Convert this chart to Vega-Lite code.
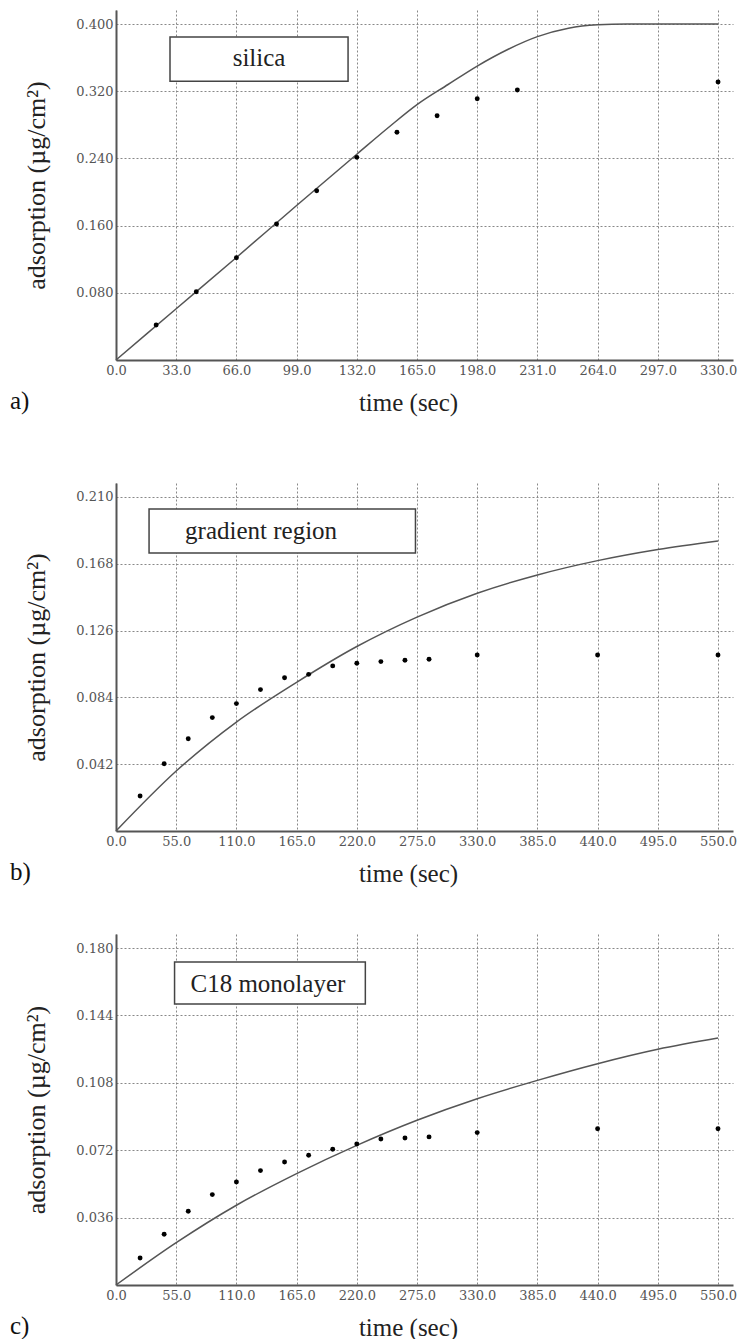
{
  "$schema": "https://vega.github.io/schema/vega-lite/v6.json",
  "background": "white",
  "padding": {"left": 10, "top": 10, "right": 4, "bottom": 0},
  "spacing": 68,
  "datasets": {
    "a_pts": [
      {"t": 22, "v": 0.0417}, {"t": 44, "v": 0.0813}, {"t": 66, "v": 0.1218}, {"t": 88, "v": 0.1619},
      {"t": 110, "v": 0.2015}, {"t": 132, "v": 0.2413}, {"t": 154, "v": 0.2711}, {"t": 176, "v": 0.2908},
      {"t": 198, "v": 0.311}, {"t": 220, "v": 0.3214}, {"t": 330, "v": 0.331}
    ],
    "a_fit": [
      {"t": 0, "v": 0}, {"t": 33, "v": 0.061}, {"t": 66, "v": 0.122}, {"t": 99, "v": 0.184},
      {"t": 132, "v": 0.245}, {"t": 150, "v": 0.278}, {"t": 165, "v": 0.304}, {"t": 182, "v": 0.328},
      {"t": 198, "v": 0.35}, {"t": 215, "v": 0.37}, {"t": 231, "v": 0.385}, {"t": 248, "v": 0.395},
      {"t": 264, "v": 0.399}, {"t": 280, "v": 0.4}, {"t": 330, "v": 0.4}
    ],
    "b_pts": [
      {"t": 22, "v": 0.022}, {"t": 44, "v": 0.0423}, {"t": 66, "v": 0.058}, {"t": 88, "v": 0.0713},
      {"t": 110, "v": 0.0801}, {"t": 132, "v": 0.0889}, {"t": 154, "v": 0.0964}, {"t": 176, "v": 0.0985},
      {"t": 198, "v": 0.1038}, {"t": 220, "v": 0.1055}, {"t": 242, "v": 0.1065}, {"t": 264, "v": 0.1074},
      {"t": 286, "v": 0.108}, {"t": 330, "v": 0.1107}, {"t": 440, "v": 0.1107}, {"t": 550, "v": 0.1107}
    ],
    "b_fit": [
      {"t": 0, "v": 0}, {"t": 55, "v": 0.0377}, {"t": 110, "v": 0.0685}, {"t": 165, "v": 0.0935},
      {"t": 220, "v": 0.116}, {"t": 275, "v": 0.1345}, {"t": 330, "v": 0.1495}, {"t": 385, "v": 0.161},
      {"t": 440, "v": 0.17}, {"t": 495, "v": 0.177}, {"t": 550, "v": 0.1824}
    ],
    "c_pts": [
      {"t": 22, "v": 0.0144}, {"t": 44, "v": 0.0271}, {"t": 66, "v": 0.0394}, {"t": 88, "v": 0.0483},
      {"t": 110, "v": 0.055}, {"t": 132, "v": 0.0611}, {"t": 154, "v": 0.0657}, {"t": 176, "v": 0.0693},
      {"t": 198, "v": 0.0725}, {"t": 220, "v": 0.0753}, {"t": 242, "v": 0.078}, {"t": 264, "v": 0.0785},
      {"t": 286, "v": 0.0791}, {"t": 330, "v": 0.0814}, {"t": 440, "v": 0.0835}, {"t": 550, "v": 0.0835}
    ],
    "c_fit": [
      {"t": 0, "v": 0}, {"t": 55, "v": 0.0226}, {"t": 110, "v": 0.0426}, {"t": 165, "v": 0.0595},
      {"t": 220, "v": 0.0746}, {"t": 275, "v": 0.088}, {"t": 330, "v": 0.0995}, {"t": 385, "v": 0.1093},
      {"t": 440, "v": 0.1182}, {"t": 495, "v": 0.1259}, {"t": 550, "v": 0.1319}
    ]
  },
  "config": {
    "view": {"stroke": null},
    "axis": {
      "grid": true, "gridColor": "#888", "gridDash": [2, 2], "gridWidth": 1,
      "domainColor": "#555", "domainWidth": 2, "ticks": false,
      "labelFont": "DejaVu Serif, serif", "labelFontSize": 13, "labelColor": "#555",
      "titleFont": "Liberation Serif, Times New Roman, serif", "titleFontSize": 25, "titleFontWeight": "normal", "titleColor": "#222"
    },
    "axisX": {"labelPadding": 4, "titlePadding": 13, "labelFlush": false, "titleX": 292},
    "axisY": {"labelPadding": 3, "titlePadding": 26, "titleFontSize": 26},
    "title": {"font": "Liberation Serif, Times New Roman, serif", "fontSize": 25, "fontWeight": "normal", "color": "#111", "orient": "bottom", "anchor": "start", "frame": "group", "dx": -106, "offset": -26}
  },
  "vconcat": [
    {
      "width": 617, "height": 350,
      "title": {"text": "a)"},
      "layer": [
        {
          "data": {"name": "a_fit"},
          "mark": {"type": "line", "color": "#555", "strokeWidth": 1.5, "interpolate": "monotone"},
          "encoding": {
            "x": {"field": "t", "type": "quantitative", "scale": {"domain": [0, 338.2], "nice": false},
                  "axis": {"values": [0, 33, 66, 99, 132, 165, 198, 231, 264, 297, 330], "format": ".1f", "title": "time (sec)"}},
            "y": {"field": "v", "type": "quantitative", "scale": {"domain": [0, 0.4167], "nice": false},
                  "axis": {"values": [0.08, 0.16, 0.24, 0.32, 0.4], "format": ".3f", "title": "adsorption (µg/cm²)"}}
          }
        },
        {
          "data": {"name": "a_pts"},
          "mark": {"type": "point", "filled": true, "color": "black", "size": 24, "opacity": 1},
          "encoding": {"x": {"field": "t", "type": "quantitative"}, "y": {"field": "v", "type": "quantitative"}}
        },
        {
          "data": {"values": [{"label": "silica"}]},
          "mark": {"type": "rect", "fill": "white", "stroke": "#444", "strokeWidth": 1.5},
          "encoding": {"x": {"datum": 29.6}, "x2": {"datum": 127.2}, "y": {"datum": 0.3845}, "y2": {"datum": 0.332}}
        },
        {
          "data": {"values": [{"label": "silica"}]},
          "mark": {"type": "text", "font": "Liberation Serif, Times New Roman, serif", "fontSize": 25, "color": "#222", "baseline": "middle", "align": "center"},
          "encoding": {"x": {"datum": 78.4}, "y": {"datum": 0.3595}, "text": {"field": "label"}}
        }
      ]
    },
    {
      "spacing": 48,
      "vconcat": [
        {
          "width": 617, "height": 348,
          "title": {"text": "b)"},
          "layer": [
            {
              "data": {"name": "b_fit"},
              "mark": {"type": "line", "color": "#555", "strokeWidth": 1.5, "interpolate": "monotone"},
              "encoding": {
                "x": {"field": "t", "type": "quantitative", "scale": {"domain": [0, 563.7], "nice": false},
                      "axis": {"values": [0, 55, 110, 165, 220, 275, 330, 385, 440, 495, 550], "format": ".1f", "title": "time (sec)"}},
                "y": {"field": "v", "type": "quantitative", "scale": {"domain": [0, 0.2188], "nice": false},
                      "axis": {"values": [0.042, 0.084, 0.126, 0.168, 0.21], "format": ".3f", "title": "adsorption (µg/cm²)"}}
              }
            },
            {
              "data": {"name": "b_pts"},
              "mark": {"type": "point", "filled": true, "color": "black", "size": 24, "opacity": 1},
              "encoding": {"x": {"field": "t", "type": "quantitative"}, "y": {"field": "v", "type": "quantitative"}}
            },
            {
              "data": {"values": [{"label": "gradient region"}]},
              "mark": {"type": "rect", "fill": "white", "stroke": "#444", "strokeWidth": 1.5},
              "encoding": {"x": {"datum": 30.2}, "x2": {"datum": 273.6}, "y": {"datum": 0.2025}, "y2": {"datum": 0.1748}}
            },
            {
              "data": {"values": [{"label": "gradient region"}]},
              "mark": {"type": "text", "font": "Liberation Serif, Times New Roman, serif", "fontSize": 25, "color": "#222", "baseline": "middle", "align": "left"},
              "encoding": {"x": {"datum": 63.1}, "y": {"datum": 0.1887}, "text": {"field": "label"}}
            }
          ]
        },
        {
          "width": 617, "height": 351,
          "title": {"text": "c)"},
          "layer": [
            {
              "data": {"name": "c_fit"},
              "mark": {"type": "line", "color": "#555", "strokeWidth": 1.5, "interpolate": "monotone"},
              "encoding": {
                "x": {"field": "t", "type": "quantitative", "scale": {"domain": [0, 563.7], "nice": false},
                      "axis": {"values": [0, 55, 110, 165, 220, 275, 330, 385, 440, 495, 550], "format": ".1f", "title": "time (sec)"}},
                "y": {"field": "v", "type": "quantitative", "scale": {"domain": [0, 0.1875], "nice": false},
                      "axis": {"values": [0.036, 0.072, 0.108, 0.144, 0.18], "format": ".3f", "title": "adsorption (µg/cm²)"}}
              }
            },
            {
              "data": {"name": "c_pts"},
              "mark": {"type": "point", "filled": true, "color": "black", "size": 24, "opacity": 1},
              "encoding": {"x": {"field": "t", "type": "quantitative"}, "y": {"field": "v", "type": "quantitative"}}
            },
            {
              "data": {"values": [{"label": "C18 monolayer"}]},
              "mark": {"type": "rect", "fill": "white", "stroke": "#444", "strokeWidth": 1.5},
              "encoding": {"x": {"datum": 53.5}, "x2": {"datum": 227.8}, "y": {"datum": 0.1725}, "y2": {"datum": 0.1501}}
            },
            {
              "data": {"values": [{"label": "C18 monolayer"}]},
              "mark": {"type": "text", "font": "Liberation Serif, Times New Roman, serif", "fontSize": 25, "color": "#222", "baseline": "middle", "align": "center"},
              "encoding": {"x": {"datum": 138.8}, "y": {"datum": 0.1608}, "text": {"field": "label"}}
            }
          ]
        }
      ]
    }
  ]
}
